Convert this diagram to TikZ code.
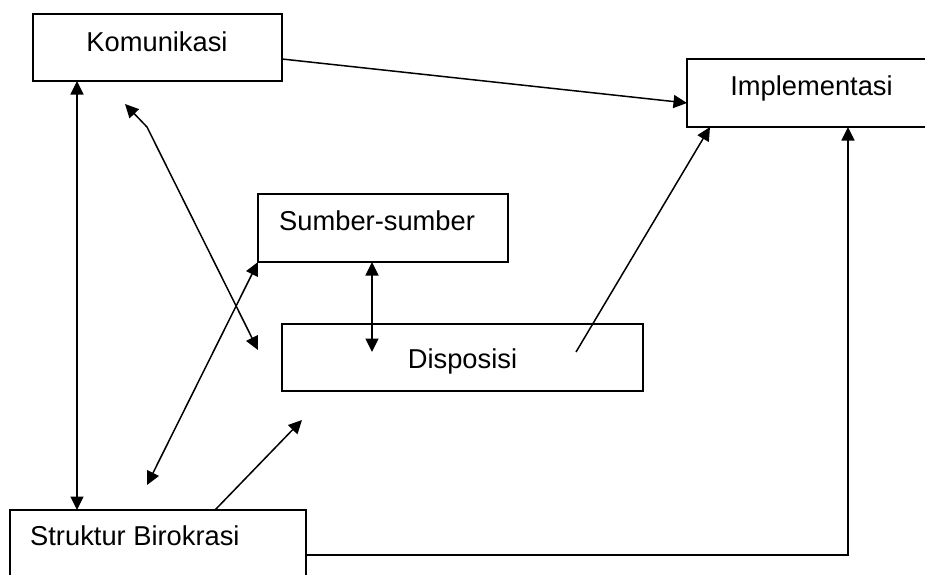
\documentclass[tikz,border=0pt]{standalone}
\usepackage{fontspec}
\setmainfont{Liberation Sans}
\usetikzlibrary{arrows.meta}
\begin{document}
\begin{tikzpicture}[x=1pt,y=-1pt,
  box/.style={draw=black, line width=1.9pt, rectangle, inner sep=0pt, outer sep=0pt},
  lbl/.style={inner sep=0pt, font=\fontsize{27.3pt}{32pt}\selectfont},
  conn/.style={line width=1.5pt, line join=miter},
  tip/.style={-{Triangle[length=13.5pt,width=13pt]}},
  tips/.style={{Triangle[length=13.5pt,width=13pt]}-{Triangle[length=13.5pt,width=13pt]}}]
\useasboundingbox (0,0) rectangle (925,574);

% boxes
\node[box, minimum width=249pt, minimum height=67pt] (kom) at (157.5,47.5) {};
\node[box, minimum width=313pt, minimum height=68pt] (imp) at (843.5,93) {};
\node[box, minimum width=250pt, minimum height=68pt] (sum) at (383,228) {};
\node[box, minimum width=361pt, minimum height=67pt] (dis) at (462.5,357.5) {};
\node[box, minimum width=296pt, minimum height=90pt] (str) at (158,555) {};

% labels
\node[lbl, anchor=base] (komt) at (157,51) {Komunikasi};
\node[lbl, anchor=base] (impt) at (811.5,95) {Implementasi};
\node[lbl, anchor=base west] (sumt) at (279,230) {Sumber-sumber};
\node[lbl, anchor=base] (dist) at (462.5,368) {Disposisi};
\node[lbl, anchor=base west] (strt) at (30,545) {Struktur Birokrasi};

% free ends
\coordinate (kd1) at (125,104);
\coordinate (kd2) at (147,127);
\coordinate (kd3) at (258,350);
\coordinate (ss1) at (147,485);
\coordinate (sd1) at (302,420);
\coordinate (di1) at (576,352);

% connectors
\draw[conn, tip] ([yshift=-11.5pt]kom.east) -- ([yshift=-10pt]imp.west);
\draw[conn, tips] ([xshift=44pt]kom.south west) -- ([xshift=67pt]str.north west);
\draw[conn, tips] (kd1) -- (kd2) -- (kd3);
\draw[conn, tips] (ss1) -- (sum.south west);
\draw[conn, tip] ([xshift=57pt]str.north) -- (sd1);
\draw[conn, tips] ([xshift=-11pt]sum.south) -- ([xshift=-11pt]sum.south |- 0,352);
\draw[conn, tip] (di1) -- ([xshift=23pt]imp.south west);
\draw[conn, tip] (str.east) -| ([xshift=161pt]imp.south west);
\end{tikzpicture}
\end{document}
